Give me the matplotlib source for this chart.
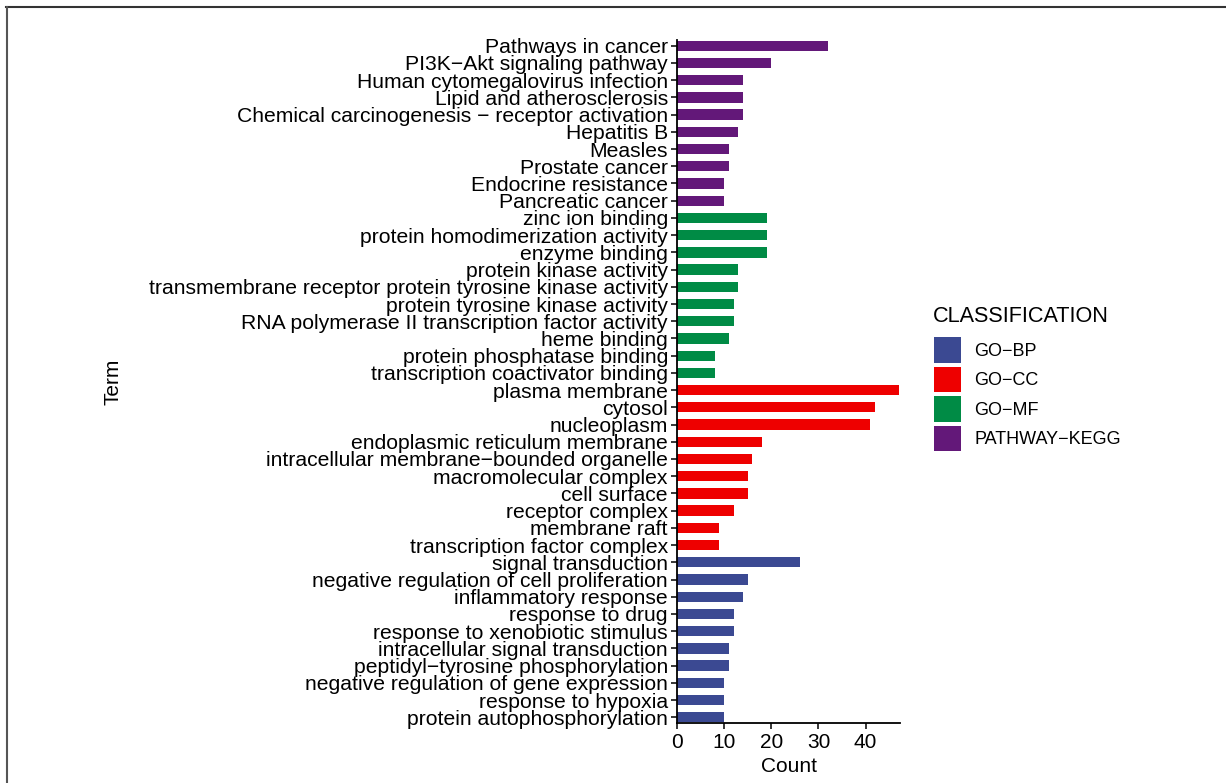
import matplotlib
matplotlib.use("Agg")
import matplotlib.pyplot as plt
from matplotlib.patches import Patch
from matplotlib.lines import Line2D

plt.rcParams['font.family'] = ['Liberation Sans', 'DejaVu Sans']

# enrichment terms, top to bottom
kegg_terms = ['Pathways in cancer', 'PI3K\u2212Akt signaling pathway',
              'Human cytomegalovirus infection', 'Lipid and atherosclerosis',
              'Chemical carcinogenesis \u2212 receptor activation', 'Hepatitis B',
              'Measles', 'Prostate cancer', 'Endocrine resistance', 'Pancreatic cancer']
kegg_counts = [32, 20, 14, 14, 14, 13, 11, 11, 10, 10]

mf_terms = ['zinc ion binding', 'protein homodimerization activity', 'enzyme binding',
            'protein kinase activity', 'transmembrane receptor protein tyrosine kinase activity',
            'protein tyrosine kinase activity', 'RNA polymerase II transcription factor activity',
            'heme binding', 'protein phosphatase binding', 'transcription coactivator binding']
mf_counts = [19, 19, 19, 13, 13, 12, 12, 11, 8, 8]

cc_terms = ['plasma membrane', 'cytosol', 'nucleoplasm', 'endoplasmic reticulum membrane',
            'intracellular membrane\u2212bounded organelle', 'macromolecular complex',
            'cell surface', 'receptor complex', 'membrane raft', 'transcription factor complex']
cc_counts = [47, 42, 41, 18, 16, 15, 15, 12, 9, 9]

bp_terms = ['signal transduction', 'negative regulation of cell proliferation',
            'inflammatory response', 'response to drug', 'response to xenobiotic stimulus',
            'intracellular signal transduction', 'peptidyl\u2212tyrosine phosphorylation',
            'negative regulation of gene expression', 'response to hypoxia',
            'protein autophosphorylation']
bp_counts = [26, 15, 14, 12, 12, 11, 11, 10, 10, 10]

classes = ['GO\u2212BP', 'GO\u2212CC', 'GO\u2212MF', 'PATHWAY\u2212KEGG']
colors = ['#3B4992', '#EE0000', '#008B45', '#631879']

groups = [(kegg_terms, kegg_counts, colors[3]),
          (mf_terms, mf_counts, colors[2]),
          (cc_terms, cc_counts, colors[1]),
          (bp_terms, bp_counts, colors[0])]

terms, counts, bar_colors = [], [], []
for t, c, col in groups:
    terms += t
    counts += c
    bar_colors += [col] * len(t)

n = len(terms)
ypos = [n - 1 - i for i in range(n)]

fig = plt.figure(figsize=(12.26, 7.83), dpi=100)
ax = fig.add_axes([677 / 1226, 1 - 723 / 783, 223 / 1226, 683 / 783])

ax.barh(ypos, counts, height=0.6, color=bar_colors)
ax.set_yticks(ypos)
ax.set_yticklabels(terms, fontsize=15.2)
ax.set_ylim(-0.33, n - 1 + 0.33)
ax.set_xlim(0, 47.3)
ax.set_xticks([0, 10, 20, 30, 40])
ax.tick_params(axis='x', labelsize=15, length=4, width=1.1, pad=3)
ax.tick_params(axis='y', length=4, width=1.1, pad=2.5)
for side in ['top', 'right']:
    ax.spines[side].set_visible(False)
for side in ['left', 'bottom']:
    ax.spines[side].set_linewidth(1.3)
ax.set_xlabel('Count', fontsize=15, labelpad=4)
ax.set_ylabel('Term', fontsize=15)
ax.yaxis.set_label_coords(-2.485, 0.5, transform=ax.transAxes)

# legend: title as separate text so its gap to the keys can be set
fig.text(933 / 1226, 1 - 316 / 783, 'CLASSIFICATION', fontsize=15.6,
         ha='left', va='center')
handles = [Patch(facecolor=c, edgecolor='none') for c in colors]
leg = fig.legend(handles, classes, loc='upper left',
                 bbox_to_anchor=(934 / 1226, 1 - 337 / 783),
                 frameon=False, fontsize=13, handlelength=1.5, handleheight=1.8,
                 handletextpad=0.72, labelspacing=0.22, borderpad=0,
                 borderaxespad=0)

# thin frame along the top and left
fig.add_artist(Line2D([6 / 1226, 1], [1 - 6.5 / 783] * 2, color='#333333', lw=1.5))
fig.add_artist(Line2D([6.5 / 1226] * 2, [0, 1 - 6.5 / 783], color='#555555', lw=1.5))

fig.savefig('out.png', dpi=100)
